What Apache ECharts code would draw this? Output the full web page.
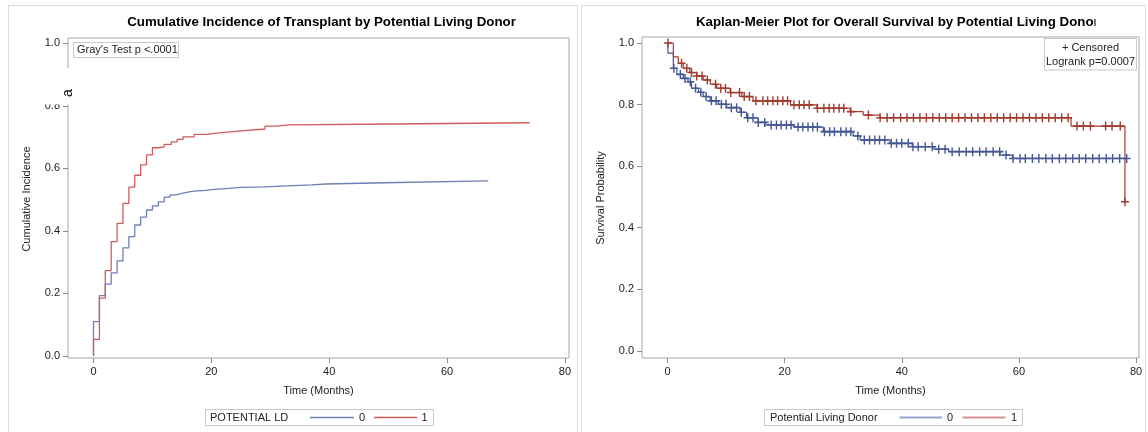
<!DOCTYPE html>
<html>
<head>
<meta charset="utf-8">
<script src="https://cdn.jsdelivr.net/npm/echarts@6/dist/echarts.min.js"></script>
<style>
  html, body { margin: 0; padding: 0; background: #ffffff; }
  #chart { width: 1148px; height: 432px; }
</style>
</head>
<body>
<div id="chart"></div>
<script>
// ---- tick values ----
const timeTicks = [0, 20, 40, 60, 80];
const probTicks = [0, 0.2, 0.4, 0.6, 0.8, 1.0];
const groupNames = ['0', '1'];

// ---- cumulative incidence of transplant: [month, value after the step] ----
const cifLd0 = [
  [0, 0], [0, 0.110], [1, 0.193], [2, 0.230], [3, 0.266], [4, 0.304], [5, 0.346],
  [6, 0.382], [7, 0.419], [8, 0.444], [9, 0.467], [10, 0.480], [11, 0.493],
  [12, 0.508], [13, 0.515], [14, 0.520], [15, 0.524], [16, 0.527], [17, 0.530],
  [19, 0.533], [20.5, 0.536], [23, 0.539], [25, 0.541], [29, 0.544], [33, 0.547],
  [37, 0.550], [39.4, 0.554], [49.4, 0.560], [67, 0.560]
];
const cifLd1 = [
  [0, 0], [0, 0.053], [1, 0.185], [2, 0.273], [3, 0.366], [4, 0.424], [5, 0.488],
  [6, 0.540], [7, 0.578], [8, 0.611], [9, 0.643], [10, 0.666], [11, 0.669],
  [12, 0.677], [13.2, 0.685], [14.2, 0.693], [15.2, 0.701], [17.1, 0.709],
  [19.1, 0.715], [22.2, 0.720], [25.1, 0.726], [29.1, 0.735], [31.1, 0.739],
  [33.1, 0.742], [50.9, 0.746], [74, 0.746]
];

// ---- Kaplan-Meier overall survival: [month, survival after the step] ----
const kmLd0 = [
  [0, 1.0], [0.1, 0.967], [1.0, 0.918], [1.6, 0.898], [2.7, 0.885], [3.5, 0.874],
  [4.1, 0.853], [5.3, 0.840], [6.1, 0.826], [7.3, 0.812], [8.7, 0.801], [10.1, 0.790],
  [12.4, 0.775], [13.5, 0.757], [15.5, 0.742], [16.7, 0.734], [21.5, 0.727],
  [26.6, 0.712], [31.7, 0.698], [32.9, 0.685], [38.0, 0.674], [41.8, 0.663],
  [45.5, 0.655], [48.0, 0.647], [56.8, 0.636], [58.9, 0.625], [78.4, 0.625]
];
const kmLd1 = [
  [0, 1.0], [1.0, 0.955], [1.85, 0.934], [2.7, 0.918], [3.8, 0.904], [5.0, 0.893],
  [6.1, 0.880], [7.3, 0.866], [8.4, 0.853], [10.7, 0.839], [12.7, 0.826],
  [14.6, 0.812], [21.0, 0.799], [25.5, 0.788], [31.2, 0.777], [33.4, 0.766],
  [36.3, 0.757], [68.9, 0.730], [78.1, 0.484]
];

// ---- censoring times (months) ----
const censorLd0 = [
  1.1, 2.2, 3.0, 3.9, 4.8, 5.7, 6.6, 7.5, 8.3, 9.2, 10.0, 10.9, 11.8, 12.6, 13.7,
  14.6, 15.5, 16.6, 17.7, 18.6, 19.4, 20.3, 21.1, 22.3, 23.1, 24.0, 24.8, 25.6,
  26.8, 27.7, 28.5, 29.6, 30.5, 31.3, 32.5, 33.6, 34.5, 35.4, 36.2, 37.1, 38.2,
  39.1, 40.0, 41.1, 41.9, 42.8, 44.0, 45.2, 46.3, 47.4, 48.6, 49.8, 51.0, 52.1,
  53.3, 54.4, 55.6, 56.7, 57.8, 59.0, 60.2, 61.1, 62.3, 63.4, 64.6, 65.7, 66.9,
  68.0, 69.2, 70.3, 71.4, 72.6, 73.7, 74.9, 76.0, 77.2, 78.4
];
const censorLd1 = [
  0.1, 2.4, 3.3, 4.1, 5.0, 5.9, 6.8, 8.2, 9.1, 9.9, 10.8, 12.3, 13.1, 14.0, 15.1,
  16.3, 17.1, 18.0, 18.8, 19.7, 20.5, 21.6, 22.5, 23.3, 24.2, 25.6, 26.7, 27.6,
  28.4, 29.3, 30.1, 31.3, 34.3, 36.3, 37.5, 38.6, 39.8, 40.9, 42.0, 43.1, 44.2,
  45.3, 46.4, 47.5, 48.6, 49.7, 50.8, 51.9, 53.0, 54.1, 55.2, 56.3, 57.4, 58.5,
  59.6, 60.7, 61.8, 62.9, 64.0, 65.1, 66.2, 67.3, 68.4, 69.9, 71.0, 72.2, 74.8,
  75.9, 77.3, 78.1
];

// survival value holding at time t (right-continuous step function)
function valueAt(steps, t) {
  let v = steps[0][1];
  for (const s of steps) { if (s[0] <= t) v = s[1]; else break; }
  return v;
}
const censorPoints = (steps, times) => times.map(t => [t, valueAt(steps, t)]);

const FONT = "'Liberation Sans', Arial, sans-serif";
const TEXT = '#222222';
const FRAME = '#a8a8a8';
const TICK = '#8c8c8c';

const lightBlue = '#6f7eb3', lightRed = '#d05b5b';
const darkBlue = '#445694', darkRed = '#a23a2e';

const plusSymbol = 'path://M5,0L5,10M0,5L10,5';

function valueAxis(gridIndex, min, max, ticks, fmt) {
  return {
    type: 'value', gridIndex, min, max,
    splitLine: { show: false },
    axisLine: { show: false, onZero: false },
    axisTick: { show: true, inside: false, length: 5, customValues: ticks,
                lineStyle: { color: TICK, width: 1 } },
    axisLabel: { show: true, customValues: ticks, margin: 8, color: TEXT,
                 fontFamily: FONT, fontSize: 11, formatter: fmt }
  };
}
const fmtTime = v => String(Math.round(v));
const fmtProb = v => v.toFixed(1);

function stepLine(name, data, color, xi, width) {
  return {
    type: 'line', name, data, step: 'end', xAxisIndex: xi, yAxisIndex: xi,
    showSymbol: false, symbol: 'none', silent: true,
    lineStyle: { color, width }, animation: false, z: 3
  };
}
function censorSeries(name, data, color) {
  return {
    type: 'scatter', name, data, xAxisIndex: 1, yAxisIndex: 1,
    symbol: plusSymbol, symbolSize: [8, 9], silent: true,
    itemStyle: { color: 'transparent', borderColor: color, borderWidth: 1.5, opacity: 1 },
    animation: false, z: 4
  };
}

function txt(x, y, text, opt) {
  opt = opt || {};
  return {
    type: 'text', x, y, rotation: opt.rotation || 0, z: opt.z || 50,
    style: {
      text, x: 0, y: 0, fill: opt.fill || TEXT,
      font: (opt.weight || 'normal') + ' ' + (opt.size || 11) + 'px ' + FONT,
      align: opt.align || 'left', verticalAlign: 'middle',
      textAlign: opt.align || 'left', textVerticalAlign: 'middle'
    }
  };
}
function hline(x1, x2, y, color, w) {
  return { type: 'line', z: 50, shape: { x1, y1: y, x2, y2: y },
           style: { stroke: color, lineWidth: w || 1 } };
}
function vline(x, y1, y2, color, w) {
  return { type: 'line', z: 50, shape: { x1: x, y1, x2: x, y2 },
           style: { stroke: color, lineWidth: w || 1 } };
}
function box(x, y, w, h, stroke, z) {
  return { type: 'rect', z: z || 40, shape: { x, y, width: w, height: h },
           style: { fill: '#ffffff', stroke, lineWidth: 1 } };
}

const graphics = [
  // panel outlines
  vline(8.5, 5, 432, '#dcdcdc'), hline(8, 578, 5.5, '#dcdcdc'), vline(577.5, 5, 432, '#dcdcdc'),
  vline(581.5, 5, 432, '#dcdcdc'), hline(581, 1146, 5.5, '#dcdcdc'), vline(1145.5, 5, 432, '#dcdcdc'),

  // titles (the survival title is cut at the right edge of its text area)
  txt(321.5, 22, 'Cumulative Incidence of Transplant by Potential Living Donor', { weight: 'bold', size: 13.3, fill: '#000', align: 'center' }),
  txt(696, 22, 'Kaplan-Meier Plot for Overall Survival by Potential Living Donor', { weight: 'bold', size: 13.3, fill: '#000' }),
  { type: 'rect', z: 60, shape: { x: 1095.5, y: 10, width: 16, height: 22 }, style: { fill: '#ffffff' } },

  // axis titles
  txt(27, 199, 'Cumulative Incidence', { rotation: Math.PI / 2, align: 'center' }),
  txt(318.5, 391, 'Time (Months)', { align: 'center' }),
  txt(601, 198, 'Survival Probability', { rotation: Math.PI / 2, align: 'center' }),
  txt(890.5, 391, 'Time (Months)', { align: 'center' }),

  // Gray's test inset
  box(73.5, 42.5, 105, 15, '#c8c8c8'),
  txt(77, 50, "Gray's Test p <.0001"),

  // censor / logrank inset
  box(1044.5, 38.5, 92, 31.5, '#c8c8c8'),
  txt(1090.5, 47.5, '+ Censored', { align: 'center' }),
  txt(1090.5, 61.5, 'Logrank p=0.0007', { align: 'center' }),

  // legend: cumulative incidence panel
  box(205.5, 409.5, 228, 16, '#c8c8c8'),
  txt(210, 417.5, 'POTENTIAL LD'),
  hline(310, 354, 417.5, lightBlue, 1.5),
  txt(362, 417.5, groupNames[0], { align: 'center' }),
  hline(374, 417, 417.5, lightRed, 1.5),
  txt(424.5, 417.5, groupNames[1], { align: 'center' }),

  // legend: survival panel
  box(764.5, 409.5, 258, 16, '#c8c8c8'),
  txt(770, 417.5, 'Potential Living Donor'),
  hline(899.5, 942, 417.5, '#9ba4cc', 2),
  txt(950, 417.5, groupNames[0], { align: 'center' }),
  hline(962.5, 1005.5, 417.5, '#d9948e', 2),
  txt(1014, 417.5, groupNames[1], { align: 'center' }),

  // blanked patch on the left axis with a stray glyph
  { type: 'rect', z: 80, shape: { x: 12, y: 68, width: 62, height: 36.5 }, style: { fill: '#ffffff' } },
  txt(68, 93, 'a', { rotation: Math.PI / 2, align: 'center', size: 14, fill: '#000', z: 90 })
];

const chart = echarts.init(document.getElementById('chart'), null, { renderer: 'canvas' });
chart.setOption({
  animation: false,
  backgroundColor: '#ffffff',
  grid: [
    { left: 68, top: 38, width: 501, height: 320, show: true, borderColor: FRAME, borderWidth: 1, backgroundColor: 'transparent' },
    { left: 642, top: 37, width: 497, height: 321, show: true, borderColor: FRAME, borderWidth: 1, backgroundColor: 'transparent' }
  ],
  xAxis: [
    valueAxis(0, -4.33, 80.7, timeTicks, fmtTime),
    valueAxis(1, -4.35, 80.5, timeTicks, fmtTime)
  ],
  yAxis: [
    valueAxis(0, -0.0064, 1.017, probTicks, fmtProb),
    valueAxis(1, -0.0234, 1.0195, probTicks, fmtProb)
  ],
  series: [
    stepLine(groupNames[0], cifLd0, lightBlue, 0, 1.3),
    stepLine(groupNames[1], cifLd1, lightRed, 0, 1.3),
    stepLine(groupNames[0], kmLd0, darkBlue, 1, 1.2),
    stepLine(groupNames[1], kmLd1, darkRed, 1, 1.2),
    censorSeries(groupNames[0] + ' censored', censorPoints(kmLd0, censorLd0), darkBlue),
    censorSeries(groupNames[1] + ' censored', censorPoints(kmLd1, censorLd1), darkRed)
  ],
  graphic: { elements: graphics }
});
</script>
</body>
</html>
